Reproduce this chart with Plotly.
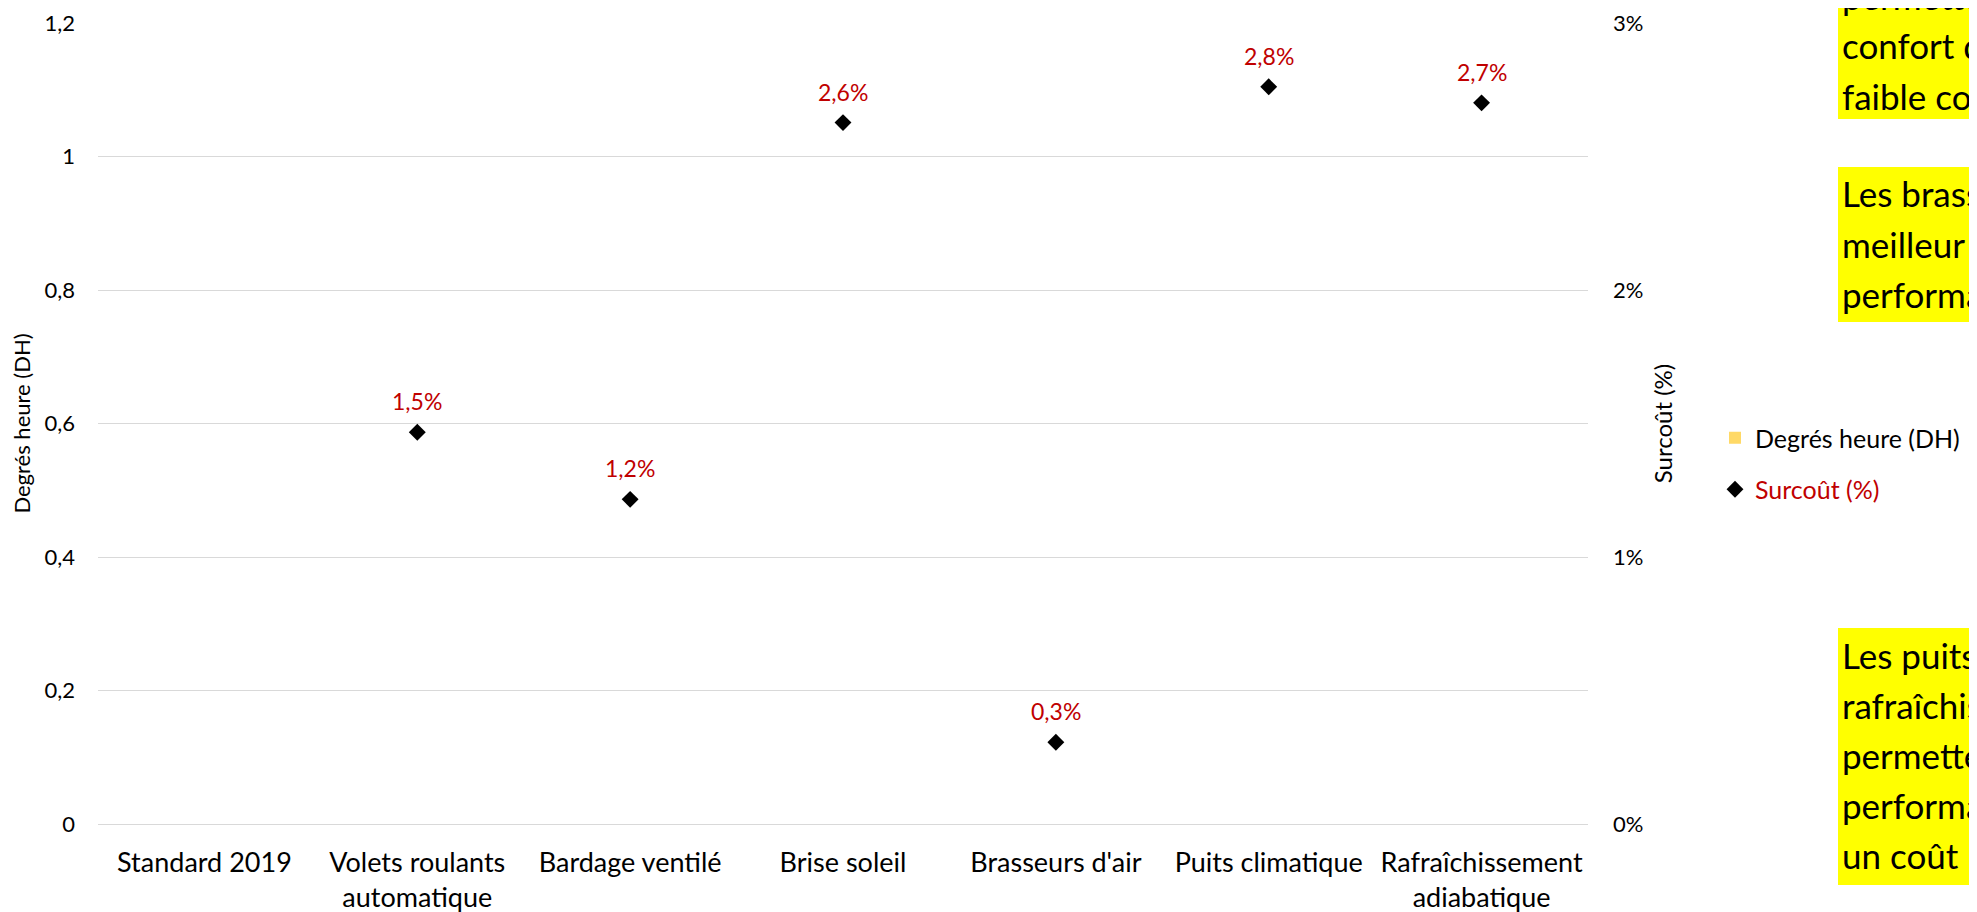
import plotly.graph_objects as go

categories = ["Standard 2019", "Volets roulants<br>automatique", "Bardage ventilé", "Brise soleil",
              "Brasseurs d'air", "Puits climatique", "Rafraîchissement<br>adiabatique"]
degres_heure = [0, 0, 0, 0, 0, 0, 0]
surcout = [None, 0.01467, 0.01216, 0.02627, 0.00306, 0.02761, 0.02701]
left_ticks = [0, 0.2, 0.4, 0.6, 0.8, 1.0, 1.2]
right_ticks = [0, 0.01, 0.02, 0.03]

note_lines = [
    ["permettent un meilleur", "confort d'été pour un", "faible coût"],
    ["Les brasseurs d'air ont le", "meilleur rapport", "performance / coût"],
    ["Les puits climatiques et le", "rafraîchissement adiabatique", "permettent de meilleures",
     "performances mais pour", "un coût plus élevé"],
]

FONT = "Lato"
RED = "#C00000"
OFF = 8  # page body margin
W, H = 1977 - 2 * OFF, 912 - OFF
# plot area in screen pixels: x 98..1588, y 23..824
ML, MR, MT, MB = 98 - OFF, W - (1588 - OFF), 23 - OFF, H - (824 - OFF)
PW, PH = W - ML - MR, H - MT - MB


def px_x(p):
    return (p - OFF - ML) / PW


def px_y(p):
    return (H - MB - (p - OFF)) / PH


fig = go.Figure()
fig.add_trace(go.Bar(
    x=categories, y=degres_heure, name="Degrés heure (DH)",
    marker=dict(color="#FFD966", line=dict(width=0)),
    legendgroup="a", yaxis="y",
))
fig.add_trace(go.Scatter(
    x=categories, y=surcout, name=f"<span style='color:{RED}'>Surcoût (%)</span>",
    mode="markers", marker=dict(symbol="diamond", size=13, color="black"),
    legendgroup="b", yaxis="y2",
))

annotations = []
for c, v in zip(categories, surcout):
    if v is None:
        continue
    annotations.append(dict(
        x=c, y=v, xref="x", yref="y2", yshift=31, showarrow=False,
        text=f"{v*100:.1f}%".replace(".", ","),
        font=dict(family=FONT, size=23, color=RED),
    ))

# note boxes: (top, bottom, first baseline) in screen pixels
boxes = [(-20, 119, 9), (167, 322, 207), (628, 885, 668)]
shapes = []
for lines, (top, bot, base) in zip(note_lines, boxes):
    shapes.append(dict(
        type="rect", xref="paper", yref="paper",
        x0=px_x(1838), x1=px_x(2150), y0=px_y(bot), y1=px_y(top),
        fillcolor="#FFFF00", line=dict(width=0), layer="above",
    ))
    for i, t in enumerate(lines):
        annotations.append(dict(
            x=px_x(1840), y=px_y(base + 50 * i - 13.5), xref="paper", yref="paper",
            xanchor="left", yanchor="middle", align="left", showarrow=False,
            text=t, font=dict(family=FONT, size=35, color="black"),
        ))

fig.update_layout(
    width=W, height=H,
    margin=dict(l=ML, r=MR, t=MT, b=MB, autoexpand=False),
    paper_bgcolor="white", plot_bgcolor="white",
    separators=", ",
    font=dict(family=FONT, color="black"),
    showlegend=True,
    legend=dict(
        xref="container", yref="container",
        x=(1715 - OFF) / W, y=1 - (415 - OFF) / H, xanchor="left", yanchor="top",
        font=dict(family=FONT, size=25, color="black"),
        tracegroupgap=16, bgcolor="rgba(0,0,0,0)",
    ),
    xaxis=dict(
        type="category", categoryorder="array", categoryarray=categories, automargin=False,
        showgrid=False, showline=False, ticks="", ticklabelstandoff=20,
        tickfont=dict(family=FONT, size=27, color="black"),
    ),
    yaxis=dict(
        range=[0, 1.2], tickvals=left_ticks, showgrid=True, gridcolor="#D9D9D9", gridwidth=1.3,
        zeroline=True, zerolinecolor="#D9D9D9", zerolinewidth=1.3, showline=False, ticks="",
        automargin=False,
        ticklabelstandoff=22, tickfont=dict(family=FONT, size=22, color="black"),
        title=dict(text="Degrés heure (DH)", font=dict(family=FONT, size=22, color="black"), standoff=8),
    ),
    yaxis2=dict(
        range=[0, 0.03], tickvals=right_ticks, tickformat=".0%", overlaying="y", side="right",
        showgrid=False, zeroline=False, showline=False, ticks="", automargin=False,
        ticklabelstandoff=24, tickfont=dict(family=FONT, size=22, color="black"),
        title=dict(text="Surcoût (%)", font=dict(family=FONT, size=24, color="black"), standoff=12),
    ),
    shapes=shapes,
    annotations=annotations,
)

fig.write_html("out.html")
